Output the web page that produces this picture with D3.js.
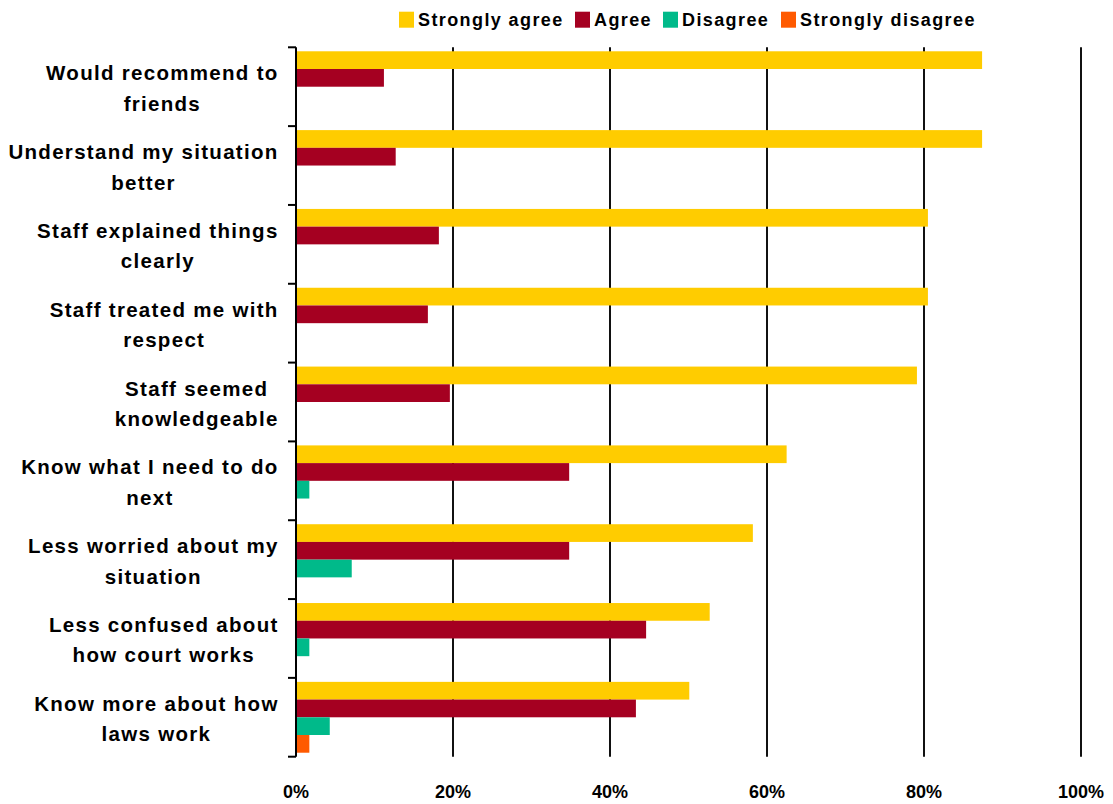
<!DOCTYPE html>
<html>
<head>
<meta charset="utf-8">
<script src="https://cdn.jsdelivr.net/npm/d3@7"></script>
<style>
  html, body { margin: 0; padding: 0; background: #fff; }
  svg { display: block; font-family: "Liberation Sans", Arial, sans-serif; }
</style>
</head>
<body>
<svg id="chart" width="1113" height="804"></svg>
<script>
const categories = [
  ["Would recommend to", "friends"],
  ["Understand my situation", "better"],
  ["Staff explained things", "clearly"],
  ["Staff treated me with", "respect"],
  ["Staff seemed", "knowledgeable"],
  ["Know what I need to do", "next"],
  ["Less worried about my", "situation"],
  ["Less confused about", "how court works"],
  ["Know more about how", "laws work"]
];
const seriesNames = ["Strongly agree", "Agree", "Disagree", "Strongly disagree"];
const seriesColors = ["#FFCC00", "#A50021", "#00BA8A", "#FF5A00"];
const stronglyAgree = [87.4, 87.4, 80.5, 80.5, 79.1, 62.5, 58.2, 52.7, 50.1];
const agree = [11.2, 12.7, 18.2, 16.8, 19.6, 34.8, 34.8, 44.6, 43.3];
const disagree = [0, 0, 0, 0, 0, 1.7, 7.1, 1.7, 4.3];
const stronglyDisagree = [0, 0, 0, 0, 0, 0, 0, 0, 1.7];
const xTicks = [0, 20, 40, 60, 80, 100];
const xTickLabels = ["0%", "20%", "40%", "60%", "80%", "100%"];

const seriesValues = [stronglyAgree, agree, disagree, stronglyDisagree];

const svg = d3.select("#chart");
const plotLeft = 296, plotRight = 1081, plotTop = 47.3, plotBottom = 756.7;

const x = d3.scaleLinear().domain([0, 100]).range([plotLeft, plotRight]);
const y = d3.scaleBand().domain(d3.range(categories.length)).range([plotTop, plotBottom]).padding(0);
const ySub = d3.scaleBand().domain(d3.range(seriesNames.length)).range([0, y.bandwidth()])
  .paddingInner(0).paddingOuter(0.225);

// gridlines
svg.append("g").selectAll("line").data(xTicks.filter(d => d > 0)).join("line")
  .attr("x1", d => x(d)).attr("x2", d => x(d))
  .attr("y1", plotTop).attr("y2", plotBottom)
  .attr("stroke", "#111").attr("stroke-width", 2);

// bars
const cats = svg.append("g").selectAll("g").data(categories.map((c, i) => i)).join("g")
  .attr("transform", i => `translate(0,${y(i)})`);
cats.selectAll("rect")
  .data(i => seriesValues.map((s, k) => ({k, v: s[i]})).filter(d => d.v > 0))
  .join("rect")
  .attr("x", x(0))
  .attr("y", d => ySub(d.k))
  .attr("width", d => x(d.v) - x(0))
  .attr("height", ySub.bandwidth())
  .attr("fill", d => seriesColors[d.k]);

// y axis
const yAxisG = svg.append("g");
yAxisG.append("line").attr("x1", plotLeft).attr("x2", plotLeft).attr("y1", plotTop).attr("y2", plotBottom)
  .attr("stroke", "#000").attr("stroke-width", 2);
yAxisG.selectAll("line.tick").data(d3.range(categories.length + 1)).join("line")
  .attr("class", "tick")
  .attr("x1", plotLeft - 8).attr("x2", plotLeft)
  .attr("y1", i => plotTop + i * y.step()).attr("y2", i => plotTop + i * y.step())
  .attr("stroke", "#000").attr("stroke-width", 2);

// category labels
const labelRight = 278;
const labelLS = 1.3;
categories.forEach((lines, i) => {
  const cy = y(i) + y.bandwidth() / 2;
  const g = svg.append("g");
  const texts = lines.map((t, j) => g.append("text")
    .attr("y", cy - 6.5 + j * 30.5)
    .attr("font-size", 20.5)
    .attr("font-weight", "bold")
    .attr("letter-spacing", labelLS)
    .attr("fill", "#000")
    .attr("text-anchor", "middle")
    .text(t));
  const w = d3.max(texts, t => t.node().getComputedTextLength());
  texts.forEach(t => t.attr("x", labelRight - w / 2 + labelLS / 2));
});

// x tick labels
svg.append("g").selectAll("text").data(xTicks).join("text")
  .attr("x", d => x(d)).attr("y", 798)
  .attr("text-anchor", "middle")
  .attr("font-size", 18).attr("font-weight", "bold")
  .text((d, i) => xTickLabels[i]);

// legend
const legendX = [399, 575, 663, 781];
const lg = svg.append("g").selectAll("g").data(seriesNames).join("g")
  .attr("transform", (d, i) => `translate(${legendX[i]},11.7)`);
lg.append("rect").attr("width", 15).attr("height", 16).attr("fill", (d, i) => seriesColors[i]);
lg.append("text").attr("x", 19).attr("y", 14)
  .attr("font-size", 18).attr("font-weight", "bold")
  .attr("letter-spacing", 1.4)
  .text(d => d);
</script>
</body>
</html>
